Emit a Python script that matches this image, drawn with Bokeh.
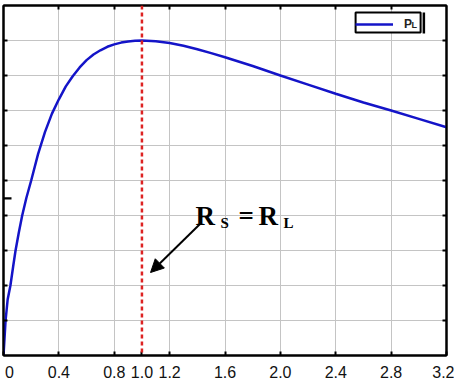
from bokeh.plotting import figure
from bokeh.models import (FixedTicker, LinearAxis, Span, Label, Arrow, NormalHead,
                          BoxAnnotation, Legend, LegendItem, Range1d, ColumnDataSource)
from bokeh.embed import file_html
from bokeh.resources import INLINE

# ---- data ----
x_ratio = [0, 0.015, 0.03, 0.05, 0.07, 0.087, 0.11, 0.135, 0.165, 0.2, 0.25, 0.3, 0.35,
           0.4, 0.45, 0.5, 0.55, 0.6, 0.65, 0.7, 0.75, 0.8, 0.85, 0.9, 0.95, 1.0,
           1.1, 1.2, 1.3, 1.4, 1.5, 1.6, 1.8, 2.0, 2.2, 2.4, 2.6, 2.8, 3.0, 3.2]
p_load = [0, 1.0, 1.6, 2.0, 2.55, 3.0, 3.5, 4.0, 4.5, 5.0, 5.76, 6.39, 6.91,
          7.32, 7.69, 7.98, 8.23, 8.44, 8.6, 8.72, 8.82, 8.89, 8.94, 8.97, 8.99, 9.0,
          8.98, 8.93, 8.85, 8.75, 8.64, 8.52, 8.27, 8.0, 7.74, 7.48, 7.23, 7.0, 6.76, 6.52]
x_ticks = [0, 0.4, 0.8, 1.0, 1.2, 1.6, 2.0, 2.4, 2.8, 3.2]
x_tick_labels = {0: "\u00a00", 0.4: "0.4", 0.8: "0.8", 1.0: "1.0", 1.2: "1.2", 1.6: "1.6",
                 2.0: "2.0", 2.4: "2.4", 2.8: "2.8", 3.2: "3.2"}
x_grid = [0.4, 0.8, 1.2, 1.6, 2.0, 2.4, 2.8]
y_ticks = [1, 2, 3, 4, 5, 6, 7, 8, 9]
match_x = 1.0

src = ColumnDataSource(dict(x=x_ratio, y=p_load))

p = figure(frame_width=443, frame_height=350, output_backend="svg", toolbar_location=None,
           x_range=Range1d(0, 3.2), y_range=Range1d(0, 10),
           min_border_left=3, min_border_top=5, min_border_right=8, min_border_bottom=26,
           background_fill_color="white", border_fill_color="white")

p.outline_line_color = "black"
p.outline_line_width = 2

# grids
p.xgrid.ticker = FixedTicker(ticks=x_grid)
p.ygrid.ticker = FixedTicker(ticks=y_ticks)
for g in (p.xgrid, p.ygrid):
    g.grid_line_color = "#c4c4c4"
    g.grid_line_width = 1

# bottom axis
xa = p.xaxis[0]
xa.ticker = FixedTicker(ticks=x_ticks)
xa.major_label_overrides = x_tick_labels
xa.major_tick_in = 4
xa.major_tick_out = 0
xa.minor_tick_line_color = None
xa.major_tick_line_width = 2
xa.axis_line_width = 2
xa.major_label_standoff = 8
xa.major_label_text_font = "Liberation Sans"
xa.major_label_text_font_size = "16px"
xa.major_label_text_color = "#111111"

hidden = dict(major_tick_in=4, major_tick_out=0, minor_tick_line_color=None,
              major_tick_line_width=2, axis_line_width=2,
              major_label_text_font_size="1px", major_label_text_color=None,
              major_label_standoff=0)

# left axis (labels not visible in the reference)
ya = p.yaxis[0]
ya.ticker = FixedTicker(ticks=y_ticks)
for k, v in hidden.items():
    setattr(ya, k, v)

# top and right axes with inward ticks
p.add_layout(LinearAxis(ticker=FixedTicker(ticks=x_grid), **hidden), "above")
p.add_layout(LinearAxis(ticker=FixedTicker(ticks=y_ticks), **hidden), "right")

# curve
line = p.line("x", "y", source=src, line_color="#1414c8", line_width=2.5)

# R_S = R_L marker
p.add_layout(Span(location=match_x, dimension="height", line_color="#dd2222",
                  line_width=2.5, line_dash="4 3"))

# legend: frame drawn as a box, legend itself transparent so the subscript shows
def px_x(v):
    return (v - 3) / 138.4

def px_y(v):
    return (355 - v) / 35

p.add_layout(BoxAnnotation(left=px_x(355), right=px_x(420), top=px_y(12), bottom=px_y(32),
                           fill_color="white", fill_alpha=1, line_color="black",
                           line_alpha=1, line_width=2, level="annotation"))
legend = Legend(items=[LegendItem(label="P", renderers=[line])], location=(352, 324),
                padding=4, margin=0, spacing=0, glyph_width=38, glyph_height=12,
                label_height=12, label_width=8, label_standoff=11,
                label_text_font="Liberation Sans", label_text_font_style="bold",
                label_text_font_size="12px", label_text_color="#222222",
                border_line_color=None, background_fill_alpha=0)
p.add_layout(legend, "center")
p.add_layout(Label(x=px_x(411), y=px_y(29), text="L",
                   text_font="Liberation Sans", text_font_style="bold",
                   text_font_size="9px", text_color="#222222"))
p.add_layout(BoxAnnotation(left=px_x(422), right=px_x(424.5), top=px_y(12), bottom=px_y(33),
                           fill_color="black", fill_alpha=1, line_color=None))
# small stray tick on left axis
p.add_layout(BoxAnnotation(left=0, right=px_x(11), top=4.52, bottom=4.46,
                           fill_color="black", fill_alpha=1, line_color=None))

# annotation text
def lab(px, py, text, size):
    p.add_layout(Label(x=px_x(px), y=px_y(py), text=text,
                       text_font="Liberation Serif", text_font_style="bold",
                       text_font_size=size, text_color="black",
                       text_baseline="alphabetic"))

lab(195, 215, "R", "27px")
lab(220, 222, "S", "15px")
lab(238, 215, "=", "27px")
lab(258, 215, "R", "27px")
lab(283, 222, "L", "15px")

p.add_layout(Arrow(end=NormalHead(size=13, fill_color="black", line_color="black"),
                   x_start=px_x(200), y_start=px_y(223),
                   x_end=px_x(150), y_end=px_y(272),
                   line_color="black", line_width=2))

open("out.html", "w").write(file_html(p, INLINE))
